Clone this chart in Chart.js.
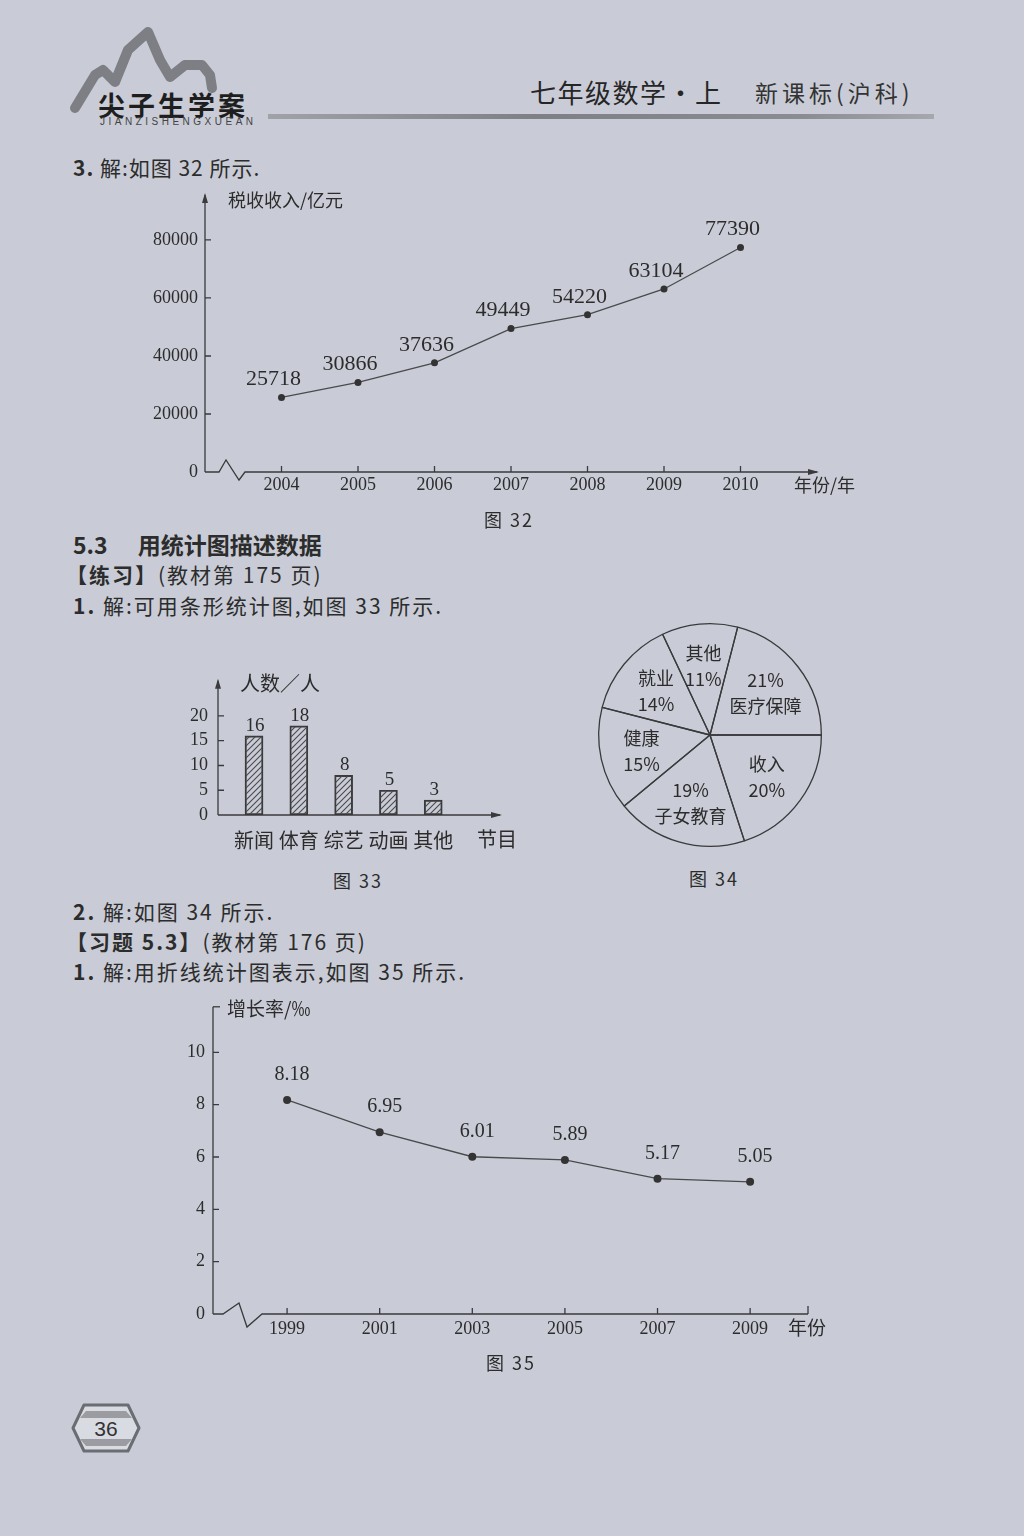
<!DOCTYPE html>
<html>
<head>
<meta charset="utf-8">
<script src="https://cdn.jsdelivr.net/npm/chart.js@4.4.1/dist/chart.umd.min.js"></script>
<style>
body { margin:0; width:1024px; height:1536px; position:relative; overflow:hidden;
       background:#c9ccd6; color:#2c2c2c; font-family:"Noto Sans CJK SC", sans-serif; }
.t { position:absolute; white-space:nowrap; line-height:1; }
.p { font-size:21px; letter-spacing:2px; }
.box { position:absolute; }
.b { font-weight:bold; }
.cap { font-size:18px; letter-spacing:2px; }
</style>
</head>
<body>

<!-- header -->
<svg class="box" style="left:60px;top:20px" width="220" height="110">
  <polyline points="15,88 35,55 43,50 55,62 68,30 88,12 100,40 110,57 125,45 142,45 150,55 152,68"
            fill="none" stroke="#76777c" stroke-width="10" stroke-linejoin="round" stroke-linecap="round" opacity="0.9"/>
</svg>
<div class="t b" style="left:98px;top:91px;font-size:27px;letter-spacing:3px;color:#1e1e1e">尖子生学案</div>
<div class="t" style="left:100px;top:117px;font-size:10px;letter-spacing:3.5px;font-family:'Liberation Sans';color:#444">JIANZISHENGXUEAN</div>
<div class="t" style="left:530px;top:79px;font-size:26px;letter-spacing:1.5px;color:#262626">七年级数学·上</div>
<div class="t" style="left:755px;top:81px;font-size:23px;letter-spacing:4px;color:#333">新课标(沪科)</div>
<div class="box" style="left:268px;top:114px;width:666px;height:5px;background:linear-gradient(90deg,#a0a2a8,#7e8086 40%,#8a8c92 80%,#a6a8ae)"></div>

<div class="t p" style="left:73px;top:157px;letter-spacing:1px"><span class="b">3.</span> 解:如图 32 所示.</div>

<div class="box" style="left:141px;top:175px"><canvas id="c32" width="720" height="337"></canvas></div>
<div class="t cap" style="left:484px;top:510px">图 32</div>

<div class="t b" style="left:73px;top:533px;font-size:23px">5.3<span style="display:inline-block;width:30px"></span>用统计图描述数据</div>
<div class="t p" style="left:66px;top:564px"><span class="b">【练习】</span>(教材第 175 页)</div>
<div class="t p" style="left:73px;top:595px"><span class="b">1.</span> 解:可用条形统计图,如图 33 所示.</div>

<div class="box" style="left:158px;top:660px"><canvas id="c33" width="372" height="195"></canvas></div>
<div class="box" style="left:590px;top:615px"><canvas id="c34" width="240" height="240"></canvas></div>
<div class="t cap" style="left:333px;top:871px">图 33</div>
<div class="t cap" style="left:689px;top:869px">图 34</div>

<div class="t p" style="left:73px;top:901px"><span class="b">2.</span> 解:如图 34 所示.</div>
<div class="t p" style="left:66px;top:931px"><span class="b">【习题 5.3】</span>(教材第 176 页)</div>
<div class="t p" style="left:73px;top:961px"><span class="b">1.</span> 解:用折线统计图表示,如图 35 所示.</div>

<div class="box" style="left:153px;top:988px"><canvas id="c35" width="700" height="366"></canvas></div>
<div class="t cap" style="left:486px;top:1353px">图 35</div>

<svg class="box" style="left:70px;top:1402px" width="72" height="52">
  <polygon points="14,3 58,3 69,26 58,49 14,49 3,26" fill="#d9dbe2" stroke="#6b6d73" stroke-width="3" stroke-linejoin="round"/>
  <polygon points="16,9 56,9 62,16 10,16" fill="#9a9ca2"/>
  <polygon points="10,37 62,37 56,44 16,44" fill="#9a9ca2"/>
  <text x="36" y="34" text-anchor="middle" font-family="Liberation Sans" font-size="21" fill="#333">36</text>
</svg>

<script>
// ---- data ----
var years32 = [2004, 2005, 2006, 2007, 2008, 2009, 2010];
var tax32 = [25718, 30866, 37636, 49449, 54220, 63104, 77390];
var yTicks32 = [0, 20000, 40000, 60000, 80000];

var programs33 = ['新闻', '体育', '综艺', '动画', '其他'];
var people33 = [16, 18, 8, 5, 3];
var yTicks33 = [0, 5, 10, 15, 20];

var topics34 = ['收入', '子女教育', '健康', '就业', '其他', '医疗保障'];
var share34 = [20, 19, 15, 14, 11, 21];

var years35 = [1999, 2001, 2003, 2005, 2007, 2009];
var rate35 = [8.18, 6.95, 6.01, 5.89, 5.17, 5.05];
var yTicks35 = [0, 2, 4, 6, 8, 10];

var INK = '#3a3a3c';
var SERIF = '"Liberation Serif", "Noto Sans CJK SC", serif';
var CJK = '"Noto Sans CJK SC", sans-serif';

// axes drawn like the book: arrows, inward ticks, zigzag break
const bookAxes = {
  id: 'bookAxes',
  afterDraw(chart, args, o) {
    if (!o.on) return;
    const ctx = chart.ctx, a = chart.chartArea, x = chart.scales.x, y = chart.scales.y;
    const y0 = y.getPixelForValue(0);
    ctx.save();
    ctx.strokeStyle = INK; ctx.fillStyle = INK; ctx.lineWidth = 1.3;
    ctx.beginPath();
    ctx.moveTo(a.left, y0); ctx.lineTo(a.left, a.top);
    ctx.stroke();
    // x axis
    ctx.beginPath();
    ctx.moveTo(a.left, y0);
    (o.zigzag || []).forEach(p => ctx.lineTo(a.left + p[0], y0 + p[1]));
    ctx.lineTo(a.right, y0);
    ctx.stroke();
    if (o.topArrow) {
      ctx.beginPath(); ctx.moveTo(a.left, a.top - 2); ctx.lineTo(a.left - 3, a.top + 8); ctx.lineTo(a.left + 3, a.top + 8); ctx.fill();
    } else {
      ctx.beginPath(); ctx.moveTo(a.left, a.top); ctx.lineTo(a.left + 7, a.top); ctx.stroke();
    }
    if (o.rightArrow) {
      ctx.beginPath(); ctx.moveTo(a.right + 2, y0); ctx.lineTo(a.right - 9, y0 - 3); ctx.lineTo(a.right - 9, y0 + 3); ctx.fill();
    } else {
      ctx.beginPath(); ctx.moveTo(a.right, y0); ctx.lineTo(a.right, y0 - 8); ctx.stroke();
    }
    ctx.beginPath();
    y.ticks.forEach(t => { if (t.value > 0) { const p = y.getPixelForValue(t.value); ctx.moveTo(a.left, p); ctx.lineTo(a.left + 6, p); } });
    if (o.xTicks) x.ticks.forEach(t => { const p = x.getPixelForValue(t.value); ctx.moveTo(p, y0); ctx.lineTo(p, y0 - 6); });
    ctx.stroke();
    ctx.fillStyle = '#2c2c2c';
    ctx.textBaseline = 'middle'; ctx.textAlign = 'left';
    ctx.font = o.nameFont;
    ctx.fillText(o.yName, a.left + o.yNameAt[0], a.top + o.yNameAt[1]);
    ctx.fillText(o.xName, a.right + o.xNameAt[0], y0 + o.xNameAt[1]);
    ctx.restore();
  }
};

// value text above each point / bar
const valueText = {
  id: 'valueText',
  afterDatasetsDraw(chart, args, o) {
    if (!o.on) return;
    const ctx = chart.ctx, ds = chart.data.datasets[0];
    ctx.save();
    ctx.fillStyle = '#2c2c2c'; ctx.font = o.font;
    ctx.textAlign = 'center'; ctx.textBaseline = 'middle';
    chart.getDatasetMeta(0).data.forEach((el, i) => {
      const v = ds.data[i].y;
      ctx.fillText(String(v), el.x + o.dx, el.y + o.dy);
    });
    ctx.restore();
  }
};

// two-line labels inside pie slices
const sliceText = {
  id: 'sliceText',
  afterDatasetsDraw(chart, args, o) {
    if (!o.on) return;
    const ctx = chart.ctx, ds = chart.data.datasets[0];
    ctx.save();
    ctx.fillStyle = '#2c2c2c'; ctx.font = o.font;
    ctx.textAlign = 'center'; ctx.textBaseline = 'middle';
    chart.getDatasetMeta(0).data.forEach((arc, i) => {
      const mid = (arc.startAngle + arc.endAngle) / 2;
      const r = arc.outerRadius * o.r;
      const cx = arc.x + Math.cos(mid) * r, cy = arc.y + Math.sin(mid) * r;
      const name = chart.data.labels[i], pct = ds.data[i] + '%';
      const lines = o.pctFirst.indexOf(name) >= 0 ? [pct, name] : [name, pct];
      ctx.fillText(lines[0], cx, cy - 12);
      ctx.fillText(lines[1], cx, cy + 14);
    });
    ctx.restore();
  }
};

Chart.register(bookAxes, valueText, sliceText);
Chart.defaults.color = '#2c2c2c';
Chart.defaults.animation = false;

function fixedTicks(list) {
  return {
    afterBuildTicks: s => { s.ticks = list.map(v => ({ value: v })); }
  };
}

function axes(xMin, xMax, xList, xFmt, xFont, xPad, yMax, yList, yFont, yPad, yW) {
  return {
    x: Object.assign({
      type: 'linear', min: xMin, max: xMax, offset: false,
      grid: { display: false, drawTicks: false, offset: false }, border: { display: false },
      ticks: { callback: xFmt, font: xFont, padding: xPad, maxRotation: 0, autoSkip: false },
      afterFit: s => { s.height = 40; }
    }, fixedTicks(xList)),
    y: Object.assign({
      type: 'linear', min: 0, max: yMax,
      grid: { display: false, drawTicks: false }, border: { display: false },
      ticks: { callback: v => String(v), font: yFont, padding: yPad },
      afterFit: s => { s.width = yW; }
    }, fixedTicks(yList))
  };
}

// figure 32
new Chart(document.getElementById('c32'), {
  type: 'line',
  data: {
    datasets: [{
      data: years32.map((yr, i) => ({ x: yr, y: tax32[i] })),
      borderColor: '#4a4a4c', borderWidth: 1.3, tension: 0,
      pointRadius: 3.5, pointBackgroundColor: '#333', pointBorderWidth: 0
    }]
  },
  options: {
    responsive: false,
    layout: { padding: { top: 20, right: 44, left: 0, bottom: 0 } },
    scales: axes(2003, 2011, years32, v => String(v), { family: SERIF, size: 18 }, 2,
                 95500, yTicks32, { family: SERIF, size: 18 }, 7, 64),
    plugins: {
      legend: { display: false }, tooltip: { enabled: false },
      bookAxes: { on: true, topArrow: true, rightArrow: true, xTicks: true,
        zigzag: [[14, 0], [21, -12], [34, 8], [40, 0]],
        yName: '税收收入/亿元', yNameAt: [23, 5], xName: '年份/年', xNameAt: [-23, 13],
        nameFont: '18px ' + CJK },
      valueText: { on: true, font: '22px ' + SERIF, dx: -8, dy: -18 }
    }
  }
});

// figure 33
function hatch() {
  const c = document.createElement('canvas');
  c.width = 6; c.height = 6;
  const g = c.getContext('2d');
  g.strokeStyle = '#4a4a4c'; g.lineWidth = 1.1;
  g.beginPath();
  g.moveTo(0, 6); g.lineTo(6, 0);
  g.moveTo(-1, 1); g.lineTo(1, -1);
  g.moveTo(5, 7); g.lineTo(7, 5);
  g.stroke();
  return g.createPattern(c, 'repeat');
}

new Chart(document.getElementById('c33'), {
  type: 'bar',
  data: {
    datasets: [{
      data: people33.map((v, i) => ({ x: i + 1, y: v })),
      backgroundColor: hatch(), borderColor: '#3a3a3c', borderWidth: 1.3,
      borderSkipped: false, barThickness: 18
    }]
  },
  options: {
    responsive: false,
    layout: { padding: { top: 15, right: 30, left: 0, bottom: 0 } },
    scales: axes(0.196, 6.49, programs33.map((p, i) => i + 1), v => programs33[v - 1] || '',
                 { family: CJK, size: 20 }, 13, 27.1, yTicks33, { family: SERIF, size: 18 }, 10, 60),
    plugins: {
      legend: { display: false }, tooltip: { enabled: false },
      bookAxes: { on: true, topArrow: true, rightArrow: true, xTicks: false, zigzag: [],
        yName: '人数／人', yNameAt: [22, 3], xName: '节目', xNameAt: [-23, 24],
        nameFont: '20px ' + CJK },
      valueText: { on: true, font: '19px ' + SERIF, dx: 1, dy: -10 }
    }
  }
});

// figure 34
new Chart(document.getElementById('c34'), {
  type: 'pie',
  data: {
    labels: topics34,
    datasets: [{ data: share34, backgroundColor: 'rgba(0,0,0,0)', borderColor: '#3a3a3c', borderWidth: 1.3 }]
  },
  options: {
    responsive: false,
    rotation: 90,
    layout: { padding: 8 },
    plugins: {
      legend: { display: false }, tooltip: { enabled: false },
      sliceText: { on: true, font: '18px ' + CJK, r: 0.63, pctFirst: ['医疗保障', '子女教育'] }
    }
  }
});

// figure 35
new Chart(document.getElementById('c35'), {
  type: 'line',
  data: {
    datasets: [{
      data: years35.map((yr, i) => ({ x: yr, y: rate35[i] })),
      borderColor: '#4a4a4c', borderWidth: 1.3, tension: 0,
      pointRadius: 4, pointBackgroundColor: '#333', pointBorderWidth: 0
    }]
  },
  options: {
    responsive: false,
    layout: { padding: { top: 15, right: 45, left: 0, bottom: 0 } },
    scales: axes(1997.40, 2010.25, years35, v => String(v), { family: SERIF, size: 18 }, 4,
                 11.74, yTicks35, { family: SERIF, size: 18 }, 8, 60),
    plugins: {
      legend: { display: false }, tooltip: { enabled: false },
      bookAxes: { on: true, topArrow: false, rightArrow: false, xTicks: true,
        zigzag: [[10, 0], [26, -11], [34, 13], [49, 0]],
        yName: '增长率/‰', yNameAt: [14, 2], xName: '年份', xNameAt: [-20, 14],
        nameFont: '19px ' + CJK },
      valueText: { on: true, font: '20px ' + SERIF, dx: 5, dy: -25 }
    }
  }
});
</script>
</body>
</html>
